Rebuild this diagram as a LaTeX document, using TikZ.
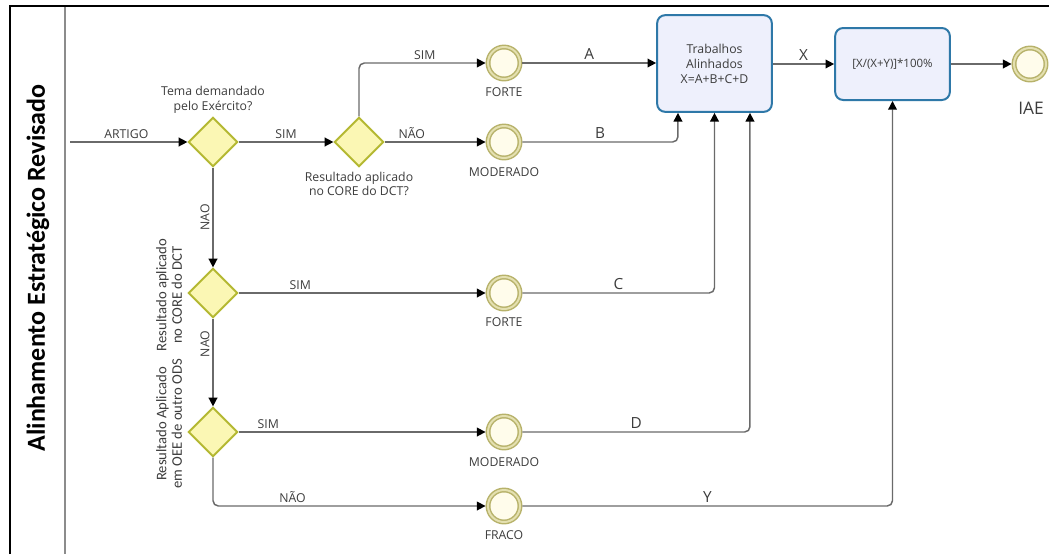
\documentclass[tikz,border=0pt]{standalone}
\usepackage{fontspec}
\setmainfont{Open Sans}
\newfontfamily\titlefont{Carlito}
\newfontfamily\narrowfont{Carlito}
\usetikzlibrary{shapes.geometric,arrows.meta,calc}
\definecolor{lineg}{HTML}{6A6A6A}
\definecolor{labelc}{HTML}{3C3C3C}
\definecolor{gateb}{HTML}{B4B832}
\definecolor{gatef}{HTML}{FBF7B4}
\definecolor{evtb}{HTML}{B7B26A}
\definecolor{evtm}{HTML}{E4E0B0}
\definecolor{evtf}{HTML}{FFFCEB}
\definecolor{boxb}{HTML}{2E78A8}
\definecolor{boxf}{HTML}{EEF0FC}
\begin{document}
\begin{tikzpicture}[x=0.75pt,y=-0.75pt,
  conn/.style={draw=lineg, line width=1.1pt, rounded corners=4pt},
  arr/.style={conn, -{Triangle[length=6.5pt,width=6.5pt,color=black]}},
  lbl/.style={font=\fontsize{9.2}{11}\selectfont, text=labelc, inner sep=1pt},
  biglbl/.style={font=\fontsize{11.5}{13}\selectfont, text=labelc, inner sep=1pt},
  rotlbl/.style={font=\narrowfont\fontsize{11}{11.6}\selectfont, text=labelc, rotate=90, align=center, inner sep=0pt},
  gate/.style={diamond, aspect=1, draw=gateb, fill=gatef, line width=1.4pt, minimum width=37pt, minimum height=37pt, inner sep=0pt},
  evt/.style={circle, draw=evtb, double=evtm, double distance=1.5pt, line width=1.1pt, fill=evtf, minimum size=24pt, inner sep=0pt, outer sep=1.8pt},
  taskbox/.style={rectangle, rounded corners=6pt, draw=boxb, fill=boxf, line width=1.5pt, align=center, text=labelc}
]
\useasboundingbox (0,0) rectangle (1049,554);
% lane frame
\draw[line width=2.2pt] (10,554) -- (10,6) -- (1049,6);
\draw[draw=black!45, line width=0.8pt] (65,7) -- (65,554);
\node[rotate=90, font=\titlefont\bfseries\fontsize{19.5}{22}\selectfont] (title) at (38,268) {Alinhamento Estratégico Revisado};

% gateways
\node[gate] (d1) at (213,142) {};
\node[gate] (d2) at (359,142) {};
\node[gate] (d3) at (213,293) {};
\node[gate] (d4) at (213,432) {};
\node[lbl, align=center] (q1) at (213,100) {Tema demandado\\pelo Exército?};
\node[lbl, align=center] (q2) at (359,184) {Resultado aplicado\\no CORE do DCT?};
\node[rotlbl] (q3) at (169,295) {Resultado aplicado\\no CORE do DCT};
\node[rotlbl] (q4) at (169,424) {Resultado Aplicado\\em OEE de outro ODS};

% events
\node[evt] (f1) at (504,63) {};
\node[evt] (m1) at (504,142) {};
\node[evt] (f2) at (504,293) {};
\node[evt] (m2) at (504,432) {};
\node[evt] (fr) at (504,506) {};
\node[evt] (iae) at (1030,64) {};
\node[lbl] (f1l) at (504,92) {FORTE};
\node[lbl] (m1l) at (504,172) {MODERADO};
\node[lbl] (f2l) at (504,322) {FORTE};
\node[lbl] (m2l) at (504,462) {MODERADO};
\node[lbl] (frl) at (504,535) {FRACO};
\node[font=\fontsize{13}{15}\selectfont, text=labelc] (iael) at (1031,108) {IAE};

% tasks
\node[taskbox, minimum width=86pt, minimum height=72.5pt, font=\fontsize{9.2}{11.2}\selectfont] (b1) at (714.5,63.5) {Trabalhos\\Alinhados\\X=A+B+C+D};
\node[taskbox, minimum width=86pt, minimum height=54pt, font=\fontsize{8.6}{10}\selectfont] (b2) at (892.5,64) {[X/(X+Y)]*100\%};

% start
\coordinate (s) at (70,142);
\draw[arr] (s) -- node[lbl, above=1pt, pos=0.48] {ARTIGO} (d1.west);
\draw[arr] (d1.east) -- node[lbl, above=1pt] {SIM} (d2.west);
\draw[arr] (d2.north) |- node[lbl, above=1pt, pos=0.76] {SIM} (f1.west);
\draw[arr] (d2.east) -- node[lbl, above=1pt, pos=0.27] {NÃO} (m1.west);
\draw[arr] (f1.east) -- node[biglbl, above=1pt] {A} (b1.west |- f1.east);
\draw[arr] (m1.east) -| node[biglbl, above=1pt, pos=0.25] {B} ([xshift=-27.4pt]b1.south);
\draw[arr] (d1.south) -- node[lbl, rotate=90, above=1pt, anchor=south] {NAO} (d3.north);
\draw[arr] (d3.east) -- node[lbl, above=1pt, pos=0.25] {SIM} (f2.west);
\draw[arr] (f2.east) -| node[biglbl, above=1pt, pos=0.25] {C} (b1.south);
\draw[arr] (d3.south) -- node[lbl, rotate=90, above=1pt, anchor=south, pos=0.29] {NAO} (d4.north);
\draw[arr] (d4.east) -- node[lbl, above=1pt, pos=0.12] {SIM} (m2.west);
\draw[arr] (m2.east) -| node[biglbl, above=1pt, pos=0.25] {D} ([xshift=26.6pt]b1.south);
\draw[arr] (d4.south) |- node[lbl, above=1pt, pos=0.646] {NÃO} (fr.west);
\draw[arr] (fr.east) -| node[biglbl, above=1pt, pos=0.25] {Y} (b2.south);
\draw[arr] (b1.east |- b2.west) -- node[biglbl, above=1pt] {X} (b2.west);
\draw[arr] (b2.east) -- (iae.west);
\end{tikzpicture}
\end{document}
